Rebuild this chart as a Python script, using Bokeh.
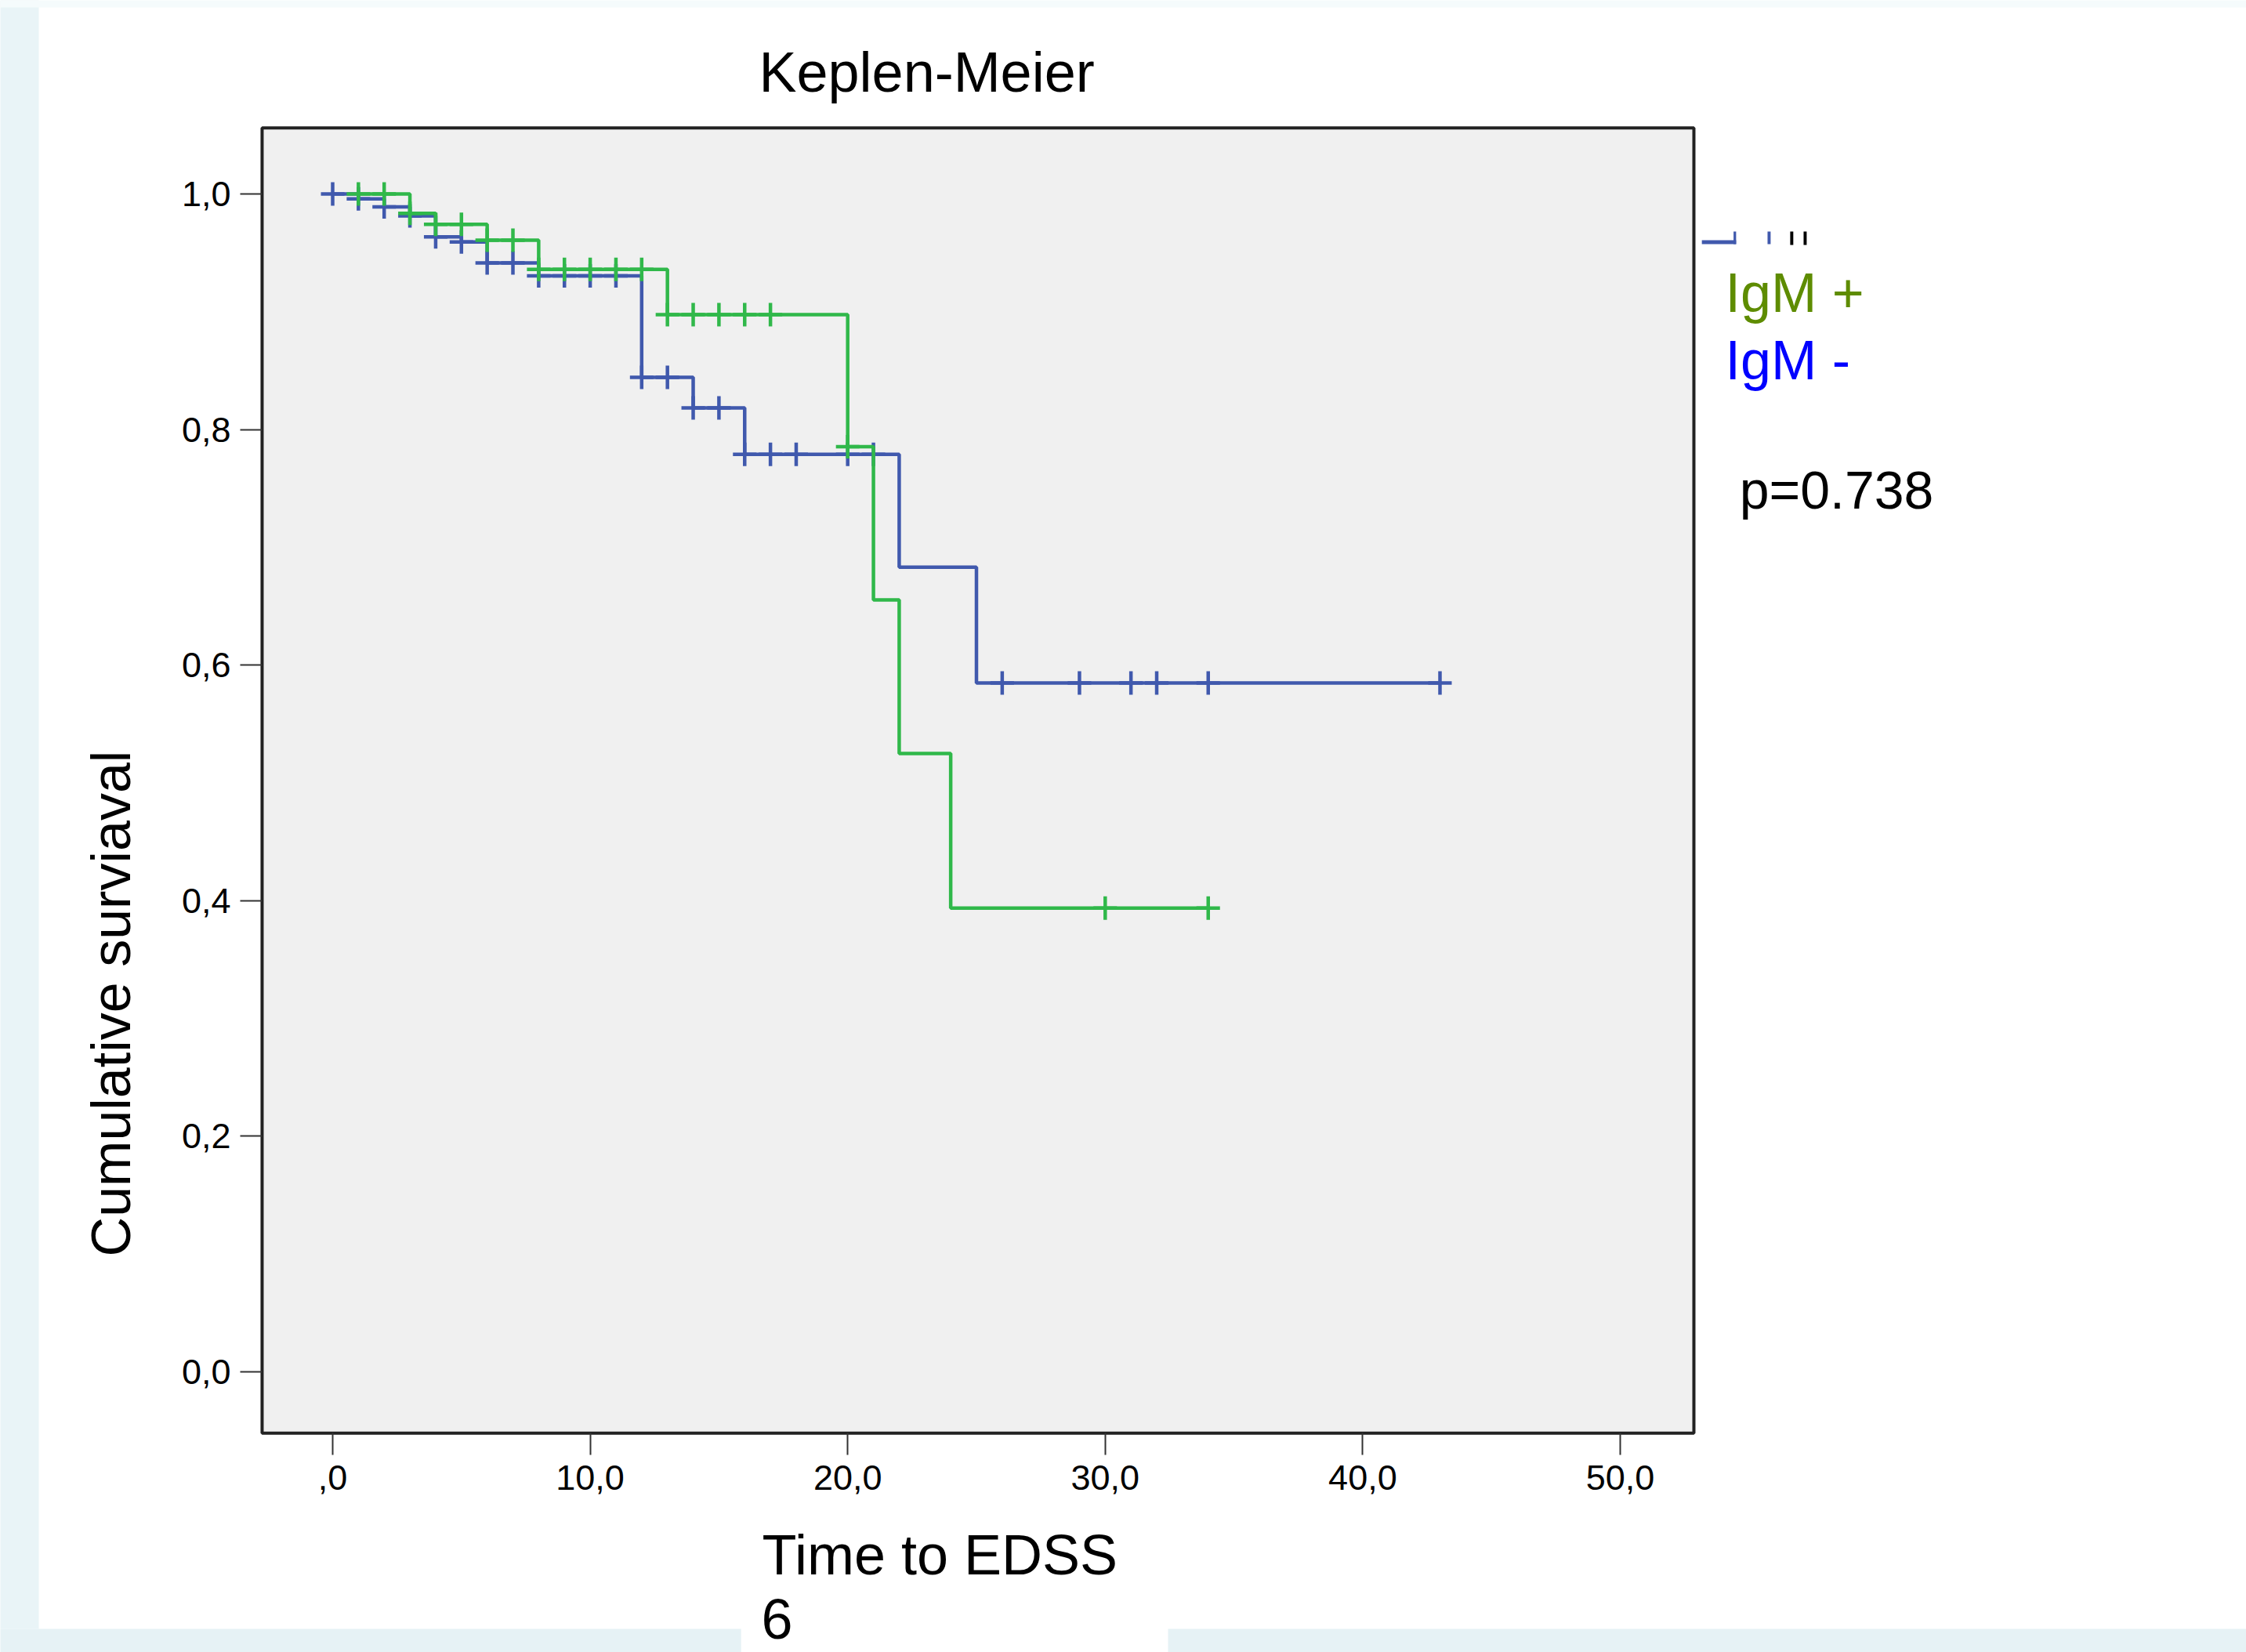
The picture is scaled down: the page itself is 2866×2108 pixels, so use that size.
import numpy as np
from math import pi
from bokeh.plotting import figure
from bokeh.models import Range1d, FixedTicker, Label, BoxAnnotation
from bokeh.embed import file_html
from bokeh.resources import INLINE

# ---------------- data ----------------
title_text = "Keplen-Meier"
x_label_text = "Time to EDSS"
x_label_line2 = "6"
y_label_text = "Cumulative surviaval"
legend_pos_text = "IgM +"
legend_neg_text = "IgM -"
p_value_text = "p=0.738"

x_ticks = [0, 10, 20, 30, 40, 50]
x_tick_labels = [",0", "10,0", "20,0", "30,0", "40,0", "50,0"]
y_ticks = [0.0, 0.2, 0.4, 0.6, 0.8, 1.0]
y_tick_labels = ["0,0", "0,2", "0,4", "0,6", "0,8", "1,0"]

# IgM - (blue): step times and survival after each time
neg_times = [0, 1, 2, 3, 4, 5, 6, 8, 12, 14, 16, 22, 25, 43]
neg_surv = [1.0, 0.9958, 0.9891, 0.9814, 0.9636, 0.9592, 0.9414, 0.9304,
            0.8443, 0.8184, 0.7789, 0.6831, 0.5848, 0.5848]
neg_censor_times = [0, 1, 2, 3, 4, 5, 6, 7, 8, 9, 10, 11, 12, 13, 14, 15, 16,
                    17, 18, 20, 21, 26, 29, 31, 32, 34, 43]

# IgM + (green)
pos_times = [1, 3, 4, 6, 8, 13, 20, 21, 22, 24, 34]
pos_surv = [1.0, 0.9836, 0.9743, 0.9607, 0.936, 0.8975, 0.7855, 0.6553,
            0.525, 0.3937, 0.3937]
pos_censor_times = [1, 2, 3, 4, 5, 6, 7, 8, 9, 10, 11, 12, 13, 14, 15, 16, 17,
                    20, 30, 34]

# plot-area extent (data units)
X_MIN, X_MAX = -2.74, 52.86
Y_MIN, Y_MAX = -0.052, 1.056

BLUE = "#4059ad"
GREEN = "#30b84a"
FONT = "Liberation Sans"


def level_at(times, surv, ts):
    t = np.asarray(times, dtype=float)
    s = np.asarray(surv, dtype=float)
    idx = np.searchsorted(t, np.asarray(ts, dtype=float), side="right") - 1
    return s[np.clip(idx, 0, len(s) - 1)]


W, H = 2866, 2108
# the frame fills the whole canvas; the chart's plot area is drawn as a box,
# and the axes are pinned to its edges with fixed_location
p = figure(width=W, height=H, output_backend="svg", toolbar_location=None,
           x_range=Range1d(-12.903, 74.315), y_range=Range1d(-0.23819, 1.16434),
           min_border=0)
p.min_border_left = p.min_border_right = p.min_border_top = p.min_border_bottom = 0
p.background_fill_color = "white"
p.border_fill_color = "white"
p.outline_line_color = None
p.grid.visible = False

# slide background strips
for l, r, b, t, c in ((-20, -11.41, -0.2182, 1.3, "#e9f4f7"),
                      (-20, 15.86, -0.30, -0.2182, "#e6f2f5"),
                      (32.44, 80, -0.30, -0.2182, "#e6f2f5"),
                      (-20, 80, 1.1583, 1.3, "#f5fbfc")):
    p.add_layout(BoxAnnotation(left=l, right=r, bottom=b, top=t, level="underlay",
                               fill_color=c, fill_alpha=1, line_alpha=0))

# plot area
p.add_layout(BoxAnnotation(left=X_MIN, right=X_MAX, bottom=Y_MIN, top=Y_MAX,
                           level="underlay", fill_color="#f0f0f0", fill_alpha=1,
                           line_color="#222222", line_width=4, line_alpha=1))

p.xaxis.fixed_location = Y_MIN
p.yaxis.fixed_location = X_MIN
for ax, ticks, labels in ((p.xaxis, x_ticks, x_tick_labels), (p.yaxis, y_ticks, y_tick_labels)):
    ax.ticker = FixedTicker(ticks=ticks)
    ax.major_label_overrides = {t: l for t, l in zip(ticks, labels)}
    ax.axis_line_color = None
    ax.major_tick_in = 0
    ax.major_tick_out = 28
    ax.major_tick_line_width = 2
    ax.major_tick_line_color = "#333333"
    ax.minor_tick_line_color = None
    ax.major_label_text_font = FONT
    ax.major_label_text_font_size = "45px"
    ax.major_label_text_color = "black"
p.xaxis.major_label_standoff = 13
p.yaxis.major_label_standoff = 12

# curves
p.step(neg_times, neg_surv, mode="after", line_width=4.5, line_color=BLUE)
p.scatter(neg_censor_times, level_at(neg_times, neg_surv, neg_censor_times),
          marker="cross", size=30, line_width=4.5, line_color=BLUE)
p.step(pos_times, pos_surv, mode="after", line_width=4.5, line_color=GREEN)
p.scatter(pos_censor_times, level_at(pos_times, pos_surv, pos_censor_times),
          marker="cross", size=30, line_width=4.5, line_color=GREEN)

# truncated legend fragment
for l, r, b, t, c in ((53.17, 54.50, 0.9574, 0.9607, BLUE),
                      (54.40, 54.50, 0.9574, 0.9681, BLUE),
                      (55.72, 55.84, 0.9574, 0.9681, BLUE),
                      (56.60, 56.72, 0.9567, 0.9681, "black"),
                      (57.12, 57.24, 0.9567, 0.9681, "black")):
    p.add_layout(BoxAnnotation(left=l, right=r, bottom=b, top=t,
                               fill_color=c, fill_alpha=1, line_alpha=0))


def add_label(x, y, text, size, color="black", align="left", angle=0):
    p.add_layout(Label(x=x, y=y, text=text, text_font=FONT,
                       text_font_size=size, text_color=color, text_align=align,
                       text_baseline="alphabetic", angle=angle))


add_label(23.07, 1.1035, title_text, "72px", align="center")
add_label(-8.61, 0.3127, y_label_text, "70px", align="center", angle=pi / 2)
add_label(16.68, -0.1554, x_label_text, "72px")
add_label(16.65, -0.2099, x_label_line2, "72px")
add_label(54.08, 0.9160, legend_pos_text, "70px", color="#5e8c00")
add_label(54.08, 0.8588, legend_neg_text, "70px", color="#0000ff")
add_label(54.63, 0.7487, p_value_text, "68px")

open("out.html", "w").write(file_html(p, INLINE))
